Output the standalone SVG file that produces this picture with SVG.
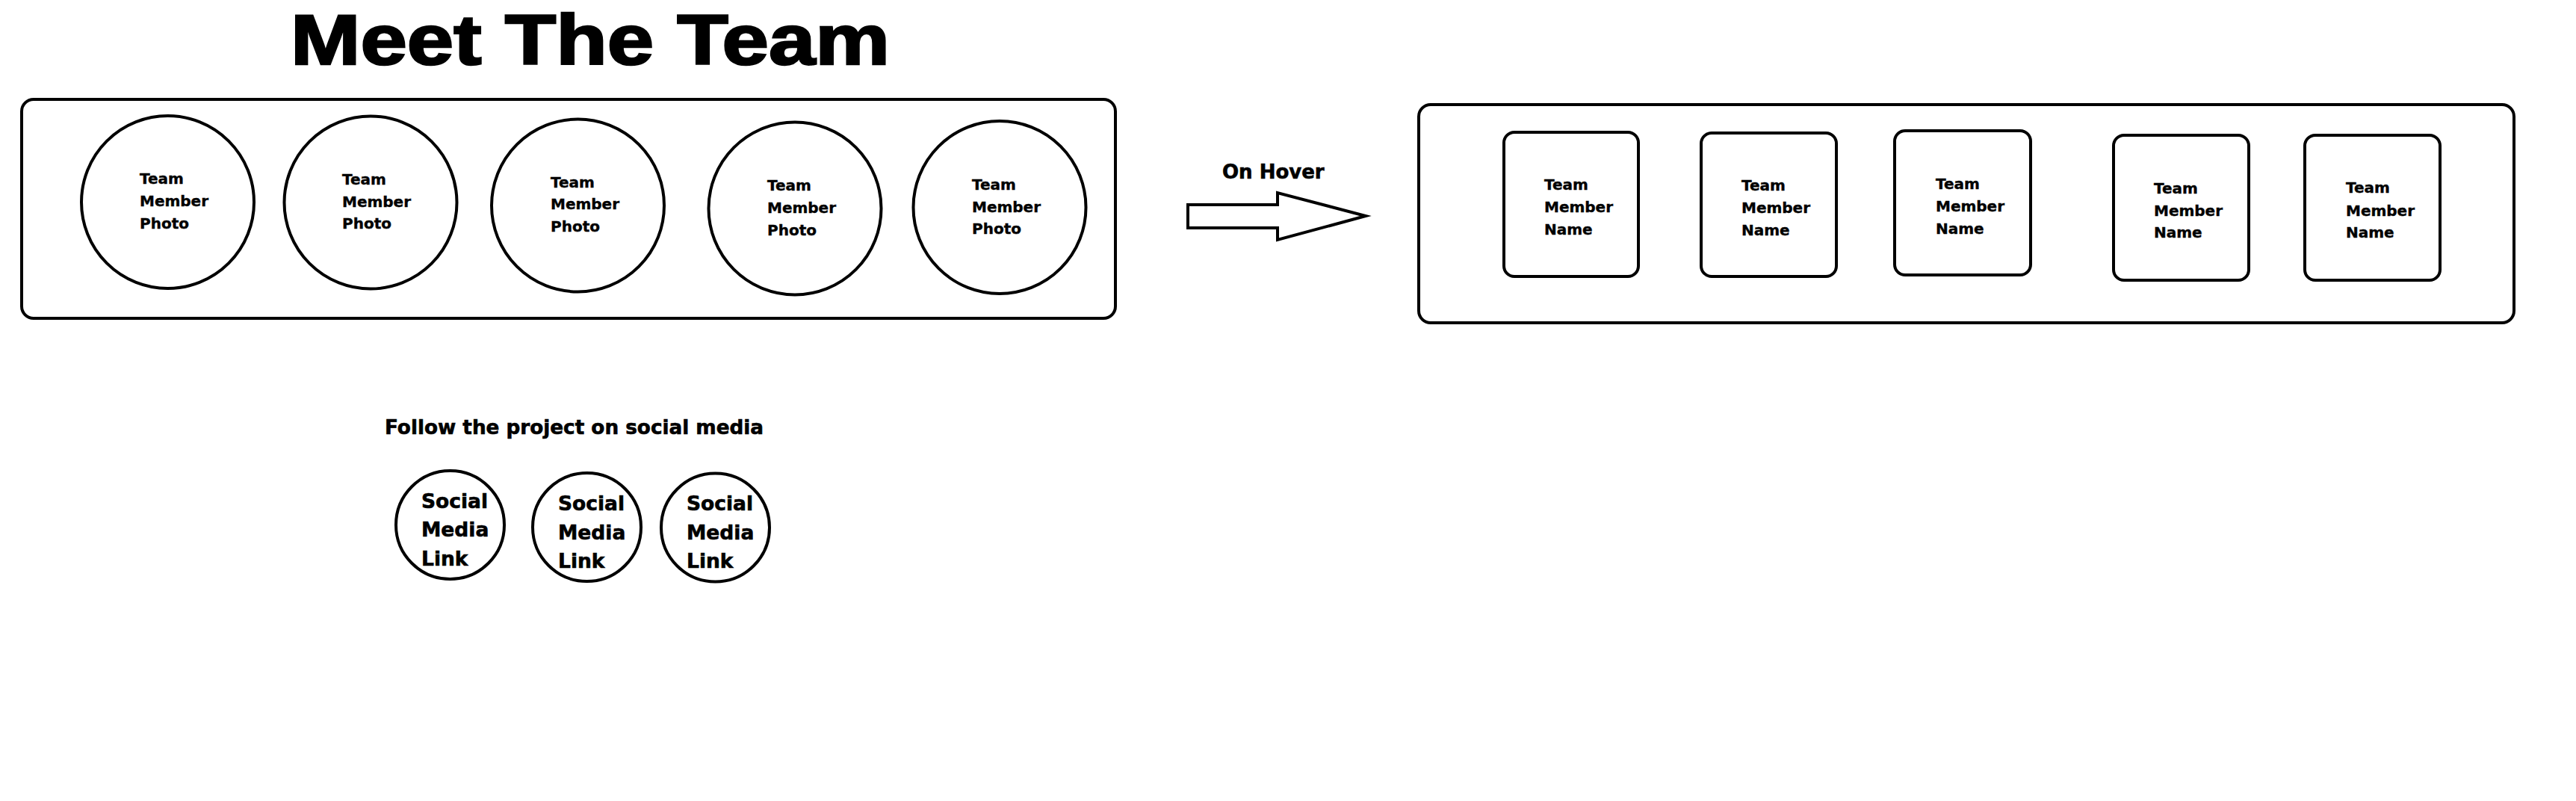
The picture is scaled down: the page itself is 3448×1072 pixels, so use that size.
<svg xmlns="http://www.w3.org/2000/svg" width="3448" height="1072" viewBox="0 0 3448 1072">
<style>
.bg{fill:#fff}
.shape{fill:#fff;stroke:#000;stroke-width:4}
.lbl{font-family:"DejaVu Sans",Verdana,sans-serif;font-weight:bold;font-size:20px;fill:#000;stroke:#000;stroke-width:0.4}
.slbl{font-family:"DejaVu Sans",Verdana,sans-serif;font-weight:bold;font-size:26.5px;fill:#000;stroke:#000;stroke-width:0.6}
.title{font-family:"Liberation Sans",Arial,sans-serif;font-weight:bold;font-size:94px;fill:#000;stroke:#000;stroke-width:2.5}
</style>
<rect class="bg" x="0" y="0" width="3448" height="1072"/>
<text id="title" class="title" x="389" y="86" textLength="802" lengthAdjust="spacingAndGlyphs">Meet The Team</text>

<g id="photo-panel">
<rect class="shape" x="29" y="133" width="1464" height="293" rx="16"/>
</g>
<g id="photo-1">
<circle class="shape" cx="224.5" cy="270.5" r="115.5"/>
<text class="lbl"><tspan x="187" y="246">Team</tspan><tspan x="187" y="276">Member</tspan><tspan x="187" y="306">Photo</tspan></text>
</g>
<g id="photo-2">
<circle class="shape" cx="496" cy="271" r="115.5"/>
<text class="lbl"><tspan x="458" y="247">Team</tspan><tspan x="458" y="277">Member</tspan><tspan x="458" y="306">Photo</tspan></text>
</g>
<g id="photo-3">
<circle class="shape" cx="773.5" cy="275" r="115.5"/>
<text class="lbl"><tspan x="737" y="251">Team</tspan><tspan x="737" y="280">Member</tspan><tspan x="737" y="310">Photo</tspan></text>
</g>
<g id="photo-4">
<circle class="shape" cx="1064" cy="279" r="115.5"/>
<text class="lbl"><tspan x="1027" y="255">Team</tspan><tspan x="1027" y="285">Member</tspan><tspan x="1027" y="315">Photo</tspan></text>
</g>
<g id="photo-5">
<circle class="shape" cx="1338" cy="277.5" r="115.5"/>
<text class="lbl"><tspan x="1301" y="254">Team</tspan><tspan x="1301" y="284">Member</tspan><tspan x="1301" y="313">Photo</tspan></text>
</g>

<g id="connectors">
<text class="slbl" x="1636" y="239" style="font-size:26px">On Hover</text>
<polygon class="shape" stroke-linejoin="miter" points="1590,274 1710,274 1710,258 1828,289 1710,321 1710,305 1590,305"/>
</g>

<g id="name-panel">
<rect class="shape" x="1899" y="140" width="1466" height="292" rx="16"/>
</g>
<g id="name-1">
<rect class="shape" x="2013" y="177" width="180" height="193" rx="14"/>
<text class="lbl"><tspan x="2067" y="254">Team</tspan><tspan x="2067" y="284">Member</tspan><tspan x="2067" y="314">Name</tspan></text>
</g>
<g id="name-2">
<rect class="shape" x="2277" y="178" width="181" height="192" rx="14"/>
<text class="lbl"><tspan x="2331" y="255">Team</tspan><tspan x="2331" y="285">Member</tspan><tspan x="2331" y="315">Name</tspan></text>
</g>
<g id="name-3">
<rect class="shape" x="2536" y="175" width="182" height="193" rx="14"/>
<text class="lbl"><tspan x="2591" y="253">Team</tspan><tspan x="2591" y="283">Member</tspan><tspan x="2591" y="313">Name</tspan></text>
</g>
<g id="name-4">
<rect class="shape" x="2829" y="181" width="181" height="194" rx="14"/>
<text class="lbl"><tspan x="2883" y="259">Team</tspan><tspan x="2883" y="289">Member</tspan><tspan x="2883" y="318">Name</tspan></text>
</g>
<g id="name-5">
<rect class="shape" x="3085" y="181" width="181" height="194" rx="14"/>
<text class="lbl"><tspan x="3140" y="258">Team</tspan><tspan x="3140" y="289">Member</tspan><tspan x="3140" y="318">Name</tspan></text>
</g>

<g id="social-heading">
<text class="slbl" x="515" y="581" style="font-size:26px" textLength="507" lengthAdjust="spacingAndGlyphs">Follow the project on social media</text>
</g>
<g id="social-1">
<circle class="shape" cx="602.5" cy="702.5" r="72.5"/>
<text class="slbl"><tspan x="564" y="680">Social</tspan><tspan x="564" y="718">Media</tspan><tspan x="564" y="757">Link</tspan></text>
</g>
<g id="social-2">
<circle class="shape" cx="785.5" cy="705.5" r="72.5"/>
<text class="slbl"><tspan x="747" y="683">Social</tspan><tspan x="747" y="722">Media</tspan><tspan x="747" y="760">Link</tspan></text>
</g>
<g id="social-3">
<circle class="shape" cx="957.5" cy="706" r="72.5"/>
<text class="slbl"><tspan x="919" y="683">Social</tspan><tspan x="919" y="722">Media</tspan><tspan x="919" y="760">Link</tspan></text>
</g>
</svg>
